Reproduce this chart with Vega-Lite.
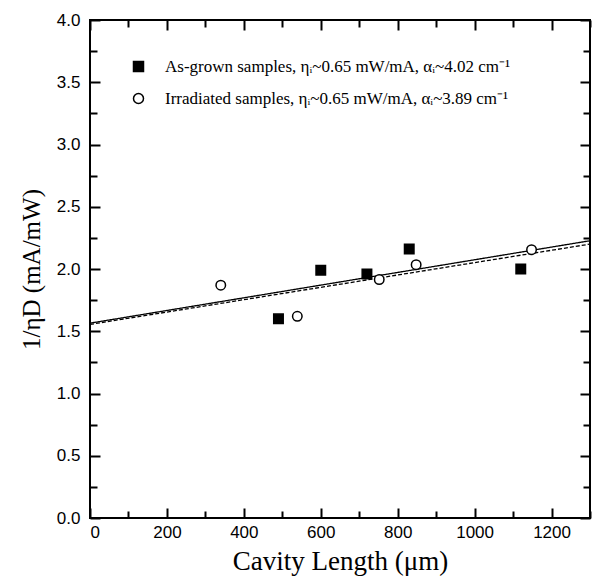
{
  "$schema": "https://vega.github.io/schema/vega-lite/v6.json",
  "width": 500,
  "height": 498,
  "autosize": "none",
  "padding": {"left": 90, "top": 20, "right": 7, "bottom": 65},
  "background": "white",
  "config": {
    "view": {"stroke": "black", "strokeWidth": 2},
    "axis": {
      "grid": false,
      "domain": false,
      "tickColor": "black",
      "tickWidth": 2,
      "labelFont": "Liberation Sans",
      "labelFontSize": 17,
      "labelColor": "black",
      "titleFont": "Liberation Serif",
      "titleFontSize": 25,
      "titleFontWeight": "normal",
      "titleColor": "black"
    },
    "legend": {
      "title": null,
      "orient": "none",
      "legendX": 40,
      "legendY": 38,
      "padding": 0,
      "labelFont": "Liberation Serif",
      "labelFontSize": 17,
      "labelColor": "black",
      "labelOffset": 18,
      "rowPadding": 14,
      "symbolStrokeWidth": 1.5,
      "symbolSize": 100,
      "symbolOpacity": 1,
      "labelLimit": 500
    }
  },
  "datasets": {
    "points": [
      {"series": "As-grown samples, ηᵢ~0.65 mW/mA, αᵢ~4.02 cm⁻¹", "L": 490, "inv": 1.6},
      {"series": "As-grown samples, ηᵢ~0.65 mW/mA, αᵢ~4.02 cm⁻¹", "L": 600, "inv": 1.99},
      {"series": "As-grown samples, ηᵢ~0.65 mW/mA, αᵢ~4.02 cm⁻¹", "L": 720, "inv": 1.96},
      {"series": "As-grown samples, ηᵢ~0.65 mW/mA, αᵢ~4.02 cm⁻¹", "L": 830, "inv": 2.16},
      {"series": "As-grown samples, ηᵢ~0.65 mW/mA, αᵢ~4.02 cm⁻¹", "L": 1120, "inv": 2.0},
      {"series": "Irradiated samples, ηᵢ~0.65 mW/mA, αᵢ~3.89 cm⁻¹", "L": 340, "inv": 1.87},
      {"series": "Irradiated samples, ηᵢ~0.65 mW/mA, αᵢ~3.89 cm⁻¹", "L": 539, "inv": 1.62},
      {"series": "Irradiated samples, ηᵢ~0.65 mW/mA, αᵢ~3.89 cm⁻¹", "L": 752, "inv": 1.915},
      {"series": "Irradiated samples, ηᵢ~0.65 mW/mA, αᵢ~3.89 cm⁻¹", "L": 848, "inv": 2.035},
      {"series": "Irradiated samples, ηᵢ~0.65 mW/mA, αᵢ~3.89 cm⁻¹", "L": 1148, "inv": 2.155}
    ],
    "fits": [
      {"fit": "As-grown", "L": 0, "inv": 1.565},
      {"fit": "As-grown", "L": 1300, "inv": 2.227},
      {"fit": "Irradiated", "L": 0, "inv": 1.555},
      {"fit": "Irradiated", "L": 1300, "inv": 2.2}
    ]
  },
  "resolve": {"axis": {"x": "independent", "y": "independent"}},
  "layer": [
    {
      "data": {"name": "fits"},
      "mark": {"type": "line", "color": "black", "strokeWidth": 1.3},
      "encoding": {
        "x": {
          "field": "L", "type": "quantitative",
          "scale": {"domain": [0, 1300], "nice": false},
          "axis": {
            "orient": "bottom",
            "title": "Cavity Length (μm)",
            "titleFontSize": 27,
            "values": [0,100,200,300,400,500,600,700,800,900,1000,1100,1200,1300],
            "labelExpr": "datum.value % 200 === 0 ? format(datum.value, 'd') : ''",
            "tickSize": {"condition": {"test": "datum.value % 200 === 0", "value": -10}, "value": -7},
            "labelPadding": 16,
            "titlePadding": 8
          }
        },
        "y": {
          "field": "inv", "type": "quantitative",
          "scale": {"domain": [0, 4], "nice": false},
          "axis": {
            "orient": "left",
            "title": "1/ηD (mA/mW)",
            "values": [0,0.25,0.5,0.75,1,1.25,1.5,1.75,2,2.25,2.5,2.75,3,3.25,3.5,3.75,4],
            "labelExpr": "datum.value % 0.5 === 0 ? format(datum.value, '.1f') : ''",
            "tickSize": {"condition": {"test": "datum.value % 0.5 === 0", "value": -10}, "value": -7},
            "labelPadding": 20,
            "titlePadding": 12
          }
        },
        "strokeDash": {
          "field": "fit", "type": "nominal",
          "scale": {"domain": ["As-grown", "Irradiated"], "range": [[1, 0], [4, 2]]},
          "legend": null
        }
      }
    },
    {
      "data": {"name": "points"},
      "mark": {"type": "point", "strokeWidth": 1.5, "opacity": 1},
      "encoding": {
        "x": {
          "field": "L", "type": "quantitative",
          "scale": {"domain": [0, 1300], "nice": false},
          "axis": {
            "orient": "top",
            "title": null,
            "labels": false,
            "values": [0,100,200,300,400,500,600,700,800,900,1000,1100,1200,1300],
            "tickSize": {"condition": {"test": "datum.value % 200 === 0", "value": -10}, "value": -7}
          }
        },
        "y": {
          "field": "inv", "type": "quantitative",
          "scale": {"domain": [0, 4], "nice": false},
          "axis": {
            "orient": "right",
            "title": null,
            "labels": false,
            "values": [0,0.25,0.5,0.75,1,1.25,1.5,1.75,2,2.25,2.5,2.75,3,3.25,3.5,3.75,4],
            "tickSize": {"condition": {"test": "datum.value % 0.5 === 0", "value": -10}, "value": -7}
          }
        },
        "shape": {
          "field": "series", "type": "nominal",
          "scale": {"range": ["square", "circle"]}
        },
        "fill": {
          "field": "series", "type": "nominal",
          "scale": {"range": ["black", "white"]}
        },
        "stroke": {
          "field": "series", "type": "nominal",
          "scale": {"range": ["black", "black"]}
        },
        "size": {"value": 90}
      }
    }
  ]
}
